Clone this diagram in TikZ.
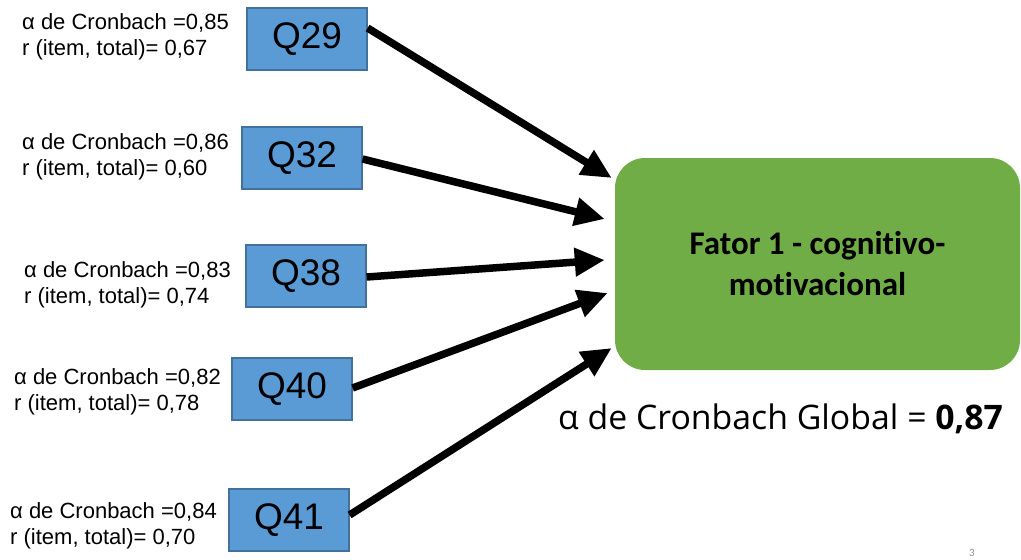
\documentclass[tikz,border=0pt]{standalone}
\usepackage{fontspec}
\setmainfont{Liberation Sans}
\newfontfamily\calibri[Ligatures=NoCommon]{Carlito}
\newfontfamily\globalfont{Open Sans}
\usetikzlibrary{arrows.meta,calc}
\definecolor{itemblue}{HTML}{5B9BD5}
\definecolor{itemedge}{HTML}{41719C}
\definecolor{factorgreen}{HTML}{70AD47}
\tikzset{
  x=1pt, y=-1pt,
  itembox/.style={draw=itemedge, fill=itemblue, line width=1.2pt,
    minimum width=120pt, minimum height=62pt, inner sep=0pt,
    font=\fontsize{37}{42}\selectfont},
  stats/.style={anchor=west, inner sep=0pt, align=left,
    font=\fontsize{22}{25.5}\selectfont},
  load/.style={line width=7.5pt, -{Triangle[length=30pt,width=27pt]}},
}
\begin{document}
\begin{tikzpicture}
\useasboundingbox (0,0) rectangle (1021,560);

% item boxes
\node[itembox] (q29) at (307,39) {Q29};
\node[itembox] (q32) at (302,158) {Q32};
\node[itembox] (q38) at (306,276) {Q38};
\node[itembox] (q40) at (292,389) {Q40};
\node[itembox] (q41) at (289,520) {Q41};

% statistics beside each item
\node[stats] (s29) at (22,37) {α de Cronbach =0,85\\r (item, total)= 0,67};
\node[stats] (s32) at (22,157) {α de Cronbach =0,86\\r (item, total)= 0,60};
\node[stats] (s38) at (24,285) {α de Cronbach =0,83\\r (item, total)= 0,74};
\node[stats] (s40) at (14,392) {α de Cronbach =0,82\\r (item, total)= 0,78};
\node[stats] (s41) at (10,526) {α de Cronbach =0,84\\r (item, total)= 0,70};

% factor box
\node[fill=factorgreen, rounded corners=30pt, minimum width=405pt,
      minimum height=212pt, inner sep=0pt, align=center,
      font=\calibri\bfseries\fontsize{33}{41}\selectfont]
  (f) at (817.5,264) {Fator 1 - cognitivo-\\motivacional};

% loadings
\draw[load] ($(q29.east)+(0,-11)$) -- ($(f.west)+(-3,-86)$);
\draw[load] ($(q32.east)+(0,1)$) -- ($(f.west)+(-10,-45)$);
\draw[load] ($(q38.east)+(0,1)$) -- ($(f.west)+(-10,-4)$);
\draw[load] ($(q40.east)+(0,-1)$) -- ($(f.west)+(-7,29)$);
\draw[load] ($(q41.east)+(0,-5)$) -- ($(f.west)+(-3,84)$);

% global reliability
\node[anchor=base west, inner sep=0pt, font=\globalfont\fontsize{33.8}{40}\selectfont]
  (glob) at (558,429) {α de Cronbach Global = \textbf{0,87}};

% slide number
\node[inner sep=0pt, text=black!45, font=\calibri\fontsize{11}{13}\selectfont]
  (pg) at (972,553) {3};
\end{tikzpicture}
\end{document}
